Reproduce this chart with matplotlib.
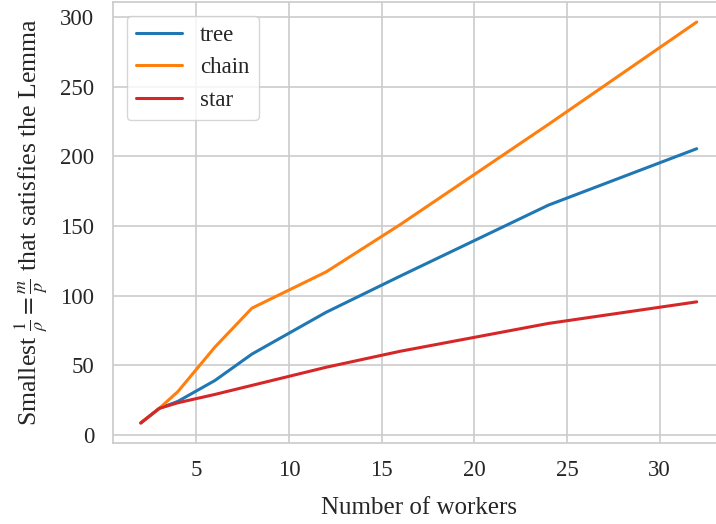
import matplotlib
matplotlib.use("Agg")
import matplotlib.pyplot as plt
import seaborn as sns

# number of workers and smallest 1/rho per topology
workers = [2, 3, 4, 6, 8, 12, 16, 24, 32]
tree = [8.5, 19, 24, 39, 58, 88, 114, 165, 205.5]
chain = [8.5, 19, 31, 63, 91, 117, 151, 223, 296.5]
star = [8.5, 19, 23, 29, 35.5, 48.5, 60, 80, 95.5]

sns.set_theme(style="whitegrid")
plt.rcParams['font.family'] = ['Liberation Serif', 'DejaVu Serif']
plt.rcParams['mathtext.fontset'] = 'stix'
plt.rcParams['grid.color'] = '0.8'
plt.rcParams['grid.linewidth'] = 1.2
plt.rcParams['axes.edgecolor'] = '0.8'

fig = plt.figure(figsize=(7.16, 5.24), dpi=100)
# right edge of the axes runs past the figure, as in the cropped original
ax = fig.add_axes([113 / 716, 1 - 443 / 524, (724.5 - 113) / 716, (443 - 2) / 524])

ax.plot(workers, tree, color='tab:blue', lw=2.2, label='tree')
ax.plot(workers, chain, color='tab:orange', lw=2.2, label='chain')
ax.plot(workers, star, color='tab:red', lw=2.2, label='star')

ax.set_xticks([5, 10, 15, 20, 25, 30])
ax.set_yticks([0, 50, 100, 150, 200, 250, 300])
ax.tick_params(axis='x', labelsize=16.5, colors='0.15', pad=6)
ax.tick_params(axis='y', labelsize=16.5, colors='0.15', pad=7.5)
ax.set_xlabel('Number of workers', fontsize=18, color='0.15', labelpad=12)
ax.set_ylabel(r'Smallest $\frac{1}{\rho}=\frac{m}{p}$ that satisfies the Lemma',
              fontsize=18.5, color='0.15', labelpad=8)

leg = ax.legend(loc='upper left', fontsize=16.5, framealpha=0.8,
                borderaxespad=0.6)
leg.get_frame().set_edgecolor('0.8')
for t in leg.get_texts():
    t.set_color('0.15')

fig.savefig('out.png', dpi=100)
